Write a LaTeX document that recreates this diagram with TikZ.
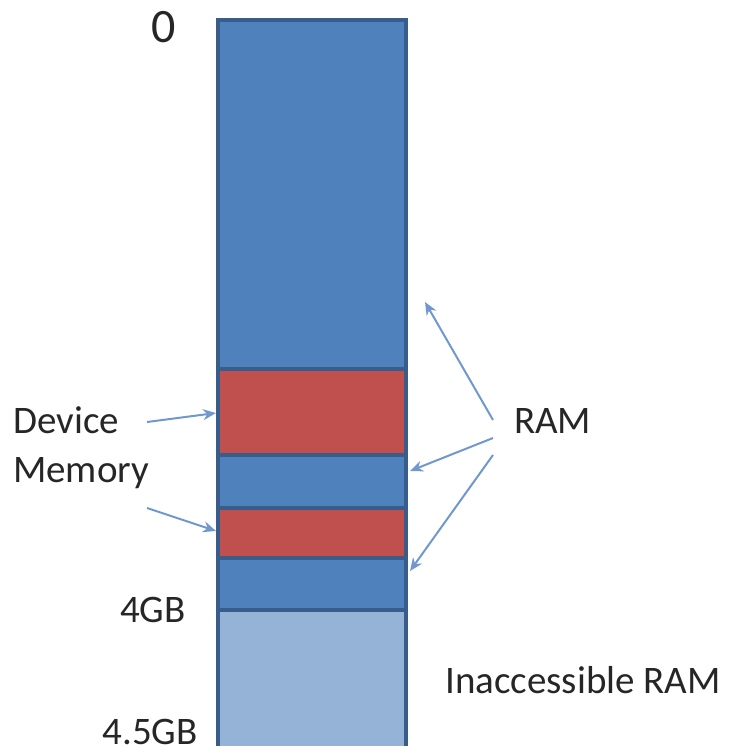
\documentclass[tikz,border=0pt]{standalone}
\usepackage{fontspec}
\setmainfont{Carlito}
\usetikzlibrary{arrows.meta}
\definecolor{ramblue}{HTML}{4F81BD}
\definecolor{devred}{HTML}{C0504D}
\definecolor{lightram}{HTML}{95B3D7}
\definecolor{edge}{HTML}{385D8A}
\definecolor{arrowcol}{HTML}{7098CF}
\definecolor{txt}{HTML}{262626}
\tikzset{
  blk/.style={draw=edge, line width=3.5pt},
  lbl/.style={inner sep=0pt, anchor=base west, text=txt, font=\fontsize{39}{46}\selectfont},
  ptr/.style={draw=arrowcol, line width=2pt, -{Stealth[length=13pt,width=11pt]}},
}
\begin{document}
\begin{tikzpicture}[x=1pt,y=-1pt]
\useasboundingbox (0,0) rectangle (728,746);
\begin{scope}
\clip (0,0) rectangle (728,746);
\path[blk, fill=lightram] (218,610) rectangle (406,760);
\path[blk, fill=ramblue] (218,558) rectangle (406,610);
\path[blk, fill=devred] (218,508) rectangle (406,558);
\path[blk, fill=ramblue] (218,455) rectangle (406,508);
\path[blk, fill=devred] (218,369) rectangle (406,455);
\path[blk, fill=ramblue] (218,20) rectangle (406,369);
\end{scope}
\coordinate (dev1) at (216,413);
\coordinate (dev2) at (216,531);
\coordinate (ram1) at (425,302);
\coordinate (ram2) at (410,471);
\coordinate (ram3) at (410,571);

\node[lbl, font=\fontsize{48}{52}\selectfont] (zero) at (151,43) {0};
\node[lbl] (device) at (13,433) {Device};
\node[lbl] (memory) at (13,482) {Memory};
\node[lbl] (ram) at (514,433) {RAM};
\node[lbl, anchor=base east] (g4) at (186,622) {4GB};
\node[lbl, anchor=base east] (g45) at (198,744) {4.5GB};
\node[lbl] (inacc) at (445,693) {Inaccessible RAM};

\coordinate (ds1) at (147,422);
\coordinate (ds2) at (147,508);
\coordinate (rs1) at (493,420);
\coordinate (rs2) at (493,438);
\coordinate (rs3) at (493,455);
\draw[ptr] (ds1) -- (dev1);
\draw[ptr] (ds2) -- (dev2);
\draw[ptr] (rs1) -- (ram1);
\draw[ptr] (rs2) -- (ram2);
\draw[ptr] (rs3) -- (ram3);
\end{tikzpicture}
\end{document}
